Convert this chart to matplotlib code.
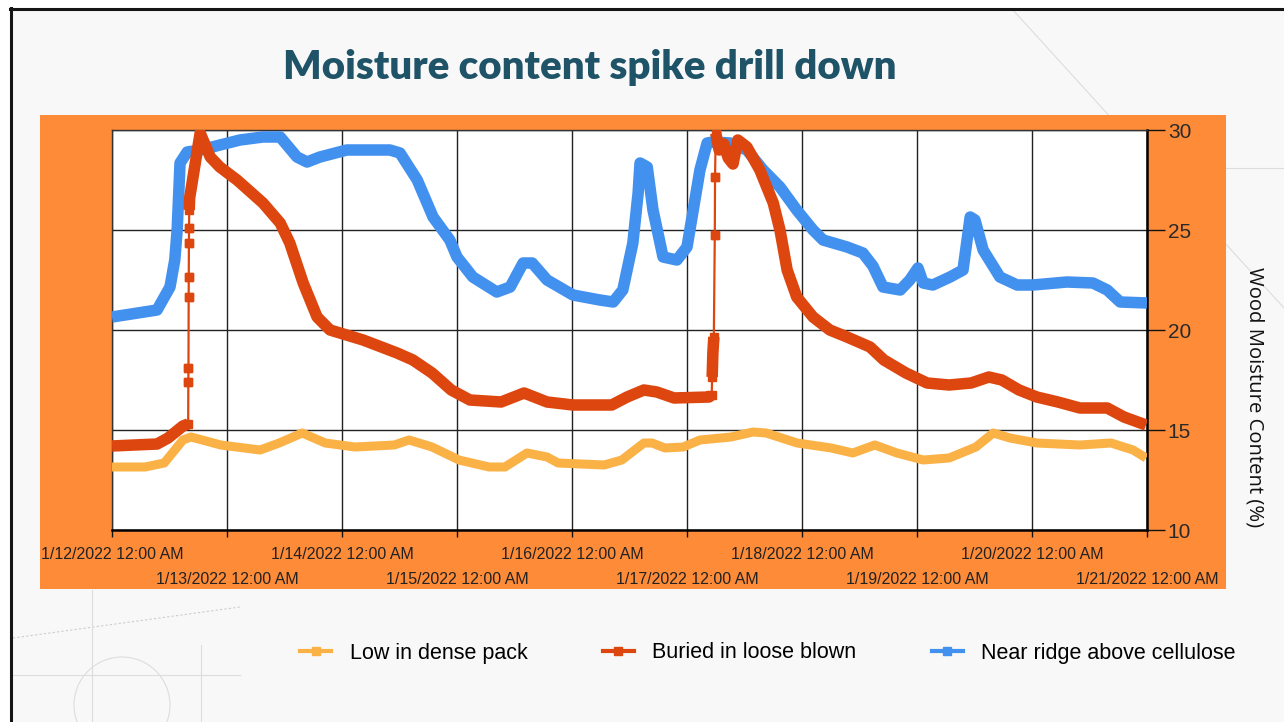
import matplotlib
matplotlib.use("Agg")
import matplotlib.pyplot as plt
import numpy as np
from matplotlib.lines import Line2D
from matplotlib.patches import Rectangle, Circle

# ---------------- data (hours since 1/12/2022 12:00 AM) ----------------
tick_labels = ["1/12/2022 12:00 AM", "1/13/2022 12:00 AM", "1/14/2022 12:00 AM",
               "1/15/2022 12:00 AM", "1/16/2022 12:00 AM", "1/17/2022 12:00 AM",
               "1/18/2022 12:00 AM", "1/19/2022 12:00 AM", "1/20/2022 12:00 AM",
               "1/21/2022 12:00 AM"]
series_names = ["Low in dense pack", "Buried in loose blown", "Near ridge above cellulose"]

blue_t = [0.0, 9.4, 12.1, 13.1, 13.6, 14.2, 15.7, 18.4, 26.7, 31.5, 35.1, 38.6, 40.7, 43.4,
          49.0, 58.0, 60.1, 63.7, 67.0, 70.5, 72.0, 75.3, 80.3, 83.1, 85.8, 87.7, 90.8, 96.2,
          101.8, 104.6, 106.6, 108.7, 109.8, 110.2, 111.7, 112.9, 115.0, 117.9, 120.0, 121.3,
          122.7, 124.2, 125.4, 129.0, 132.5, 135.9, 139.4, 142.9, 146.3, 148.4, 153.4, 156.7,
          158.8, 160.9, 164.5, 166.5, 168.2, 169.3, 171.3, 174.9, 177.6, 179.1, 180.1, 181.8,
          185.3, 188.9, 192.2, 199.3, 204.7, 207.7, 210.4, 216.0]
blue_v = [20.65, 21.0, 22.15, 23.5, 25.0, 28.35, 28.9, 29.0, 29.5, 29.65, 29.65, 28.65, 28.4, 28.65,
          29.0, 29.0, 28.85, 27.5, 25.65, 24.5, 23.65, 22.65, 21.9, 22.15, 23.35, 23.35, 22.5, 21.75,
          21.5, 21.4, 22.0, 24.35, 26.85, 28.35, 28.15, 26.0, 23.65, 23.5, 24.15, 26.0,
          28.0, 29.35, 29.4, 29.35, 29.0, 28.0, 27.15, 26.0, 25.0, 24.5, 24.15, 23.85,
          23.2, 22.15, 22.0, 22.5, 23.1, 22.35, 22.25, 22.65, 23.0, 25.65, 25.5, 24.0,
          22.65, 22.25, 22.25, 22.4, 22.35, 22.0, 21.4, 21.35]

red_t = [0.0, 9.4, 11.7, 14.8, 15.9, 15.93, 15.96, 16.0, 16.02, 16.05, 16.08, 16.12, 16.2,
         18.4, 20.5, 22.5, 26.1, 31.5, 35.1, 37.1, 39.9, 42.8, 45.5, 52.4, 59.5, 62.8, 66.8,
         70.8, 74.7, 81.2, 86.0, 90.8, 96.2, 104.3, 107.5, 111.0, 113.7, 117.3, 124.6, 125.15,
         125.25, 125.4, 125.6, 125.8, 125.85, 126.0, 126.7, 127.7, 128.6, 129.6, 130.6, 132.5,
         135.2, 138.0, 139.4, 140.9, 142.9, 146.3, 149.8, 153.4, 158.2, 161.1, 165.7, 170.1,
         174.7, 179.3, 183.0, 185.7, 189.3, 193.0, 197.4, 202.0, 207.7, 211.2, 215.8]
red_v = [14.2, 14.3, 14.6, 15.2, 15.3, 17.4, 18.1, 21.65, 22.65, 24.35, 25.1, 26.0, 26.6,
         29.85, 28.65, 28.15, 27.5, 26.35, 25.35, 24.35, 22.35, 20.65, 20.0, 19.5, 18.85, 18.5, 17.85,
         17.0, 16.5, 16.4, 16.85, 16.4, 16.25, 16.25, 16.65, 17.0, 16.9, 16.6, 16.65, 16.75,
         17.65, 18.85, 19.65, 24.75, 27.65, 29.85, 29.0, 29.3, 28.6, 28.3, 29.5, 29.15,
         28.0, 26.35, 25.0, 23.0, 21.65, 20.65, 20.0, 19.65, 19.15, 18.5, 17.85, 17.35,
         17.25, 17.35, 17.65, 17.5, 17.0, 16.65, 16.4, 16.1, 16.1, 15.65, 15.25]

yellow_t = [0.0, 6.9, 10.9, 14.8, 16.5, 22.7, 30.9, 34.9, 39.7, 44.5, 50.7, 58.9, 62.0, 66.8,
            72.4, 78.7, 82.0, 86.6, 90.8, 93.1, 102.7, 106.4, 111.0, 112.7, 115.4, 119.2, 122.7,
            129.2, 133.8, 136.5, 143.0, 150.1, 154.6, 159.2, 163.8, 169.3, 174.7, 180.3, 183.9,
            187.4, 193.0, 202.0, 208.5, 213.1, 215.8]
yellow_v = [13.15, 13.15, 13.35, 14.5, 14.65, 14.25, 14.0, 14.35, 14.85, 14.35, 14.15, 14.25, 14.5, 14.15,
            13.5, 13.15, 13.15, 13.85, 13.65, 13.35, 13.25, 13.5, 14.35, 14.35, 14.1, 14.15, 14.5,
            14.65, 14.9, 14.85, 14.35, 14.1, 13.85, 14.25, 13.85, 13.5, 13.6, 14.15, 14.85,
            14.6, 14.35, 14.25, 14.35, 14.0, 13.6]

c_yellow = "#fab246"
c_red = "#de460f"
c_blue = "#4391ee"
c_orange = "#fd8b38"
c_title = "#1f5368"

W, H = 1284, 722
fig = plt.figure(figsize=(W / 100, H / 100), dpi=100)
fig.patch.set_facecolor("white")

# ---------------- slide background (pixel coordinates) ----------------
bg = fig.add_axes([0, 0, 1, 1])
bg.set_xlim(0, W)
bg.set_ylim(H, 0)
bg.axis("off")
bg.add_patch(Rectangle((10, 8), W - 10, H - 8, facecolor="#f8f8f8", edgecolor="none", zorder=0))
dec = "#dddddd"
bg.plot([1013, 1284], [10, 308], color=dec, lw=0.8, zorder=0.5)
bg.plot([1100, 1284], [168, 168], color=dec, lw=0.8, zorder=0.5)
bg.plot([13, 240], [638, 607], color="#cccccc", lw=0.8, ls=(0, (2, 2)), zorder=0.5)
bg.plot([92, 92], [590, H], color=dec, lw=0.8, zorder=0.5)
bg.plot([201, 201], [645, H], color=dec, lw=0.8, zorder=0.5)
bg.plot([13, 240], [675, 675], color=dec, lw=0.8, zorder=0.5)
bg.add_patch(Circle((122, 705), 48, fill=False, edgecolor=dec, lw=0.8, zorder=0.5))
bg.add_patch(Rectangle((40, 115), 1186, 474, facecolor=c_orange, edgecolor="none", zorder=1))
bg.plot([10, W], [8.5, 8.5], color="#151515", lw=2.2, zorder=3)
bg.plot([10.5, 10.5], [8, H], color="#151515", lw=2.2, zorder=3)
bg.text(590, 79, "Moisture content spike drill down", ha="center", va="baseline",
        fontsize=29, fontweight="heavy", family="Lato", color=c_title)

# ---------------- chart ----------------
ax = fig.add_axes([112 / W, 1 - 530 / H, (1147 - 112) / W, 400 / H])
ax.set_facecolor("white")
ax.set_xlim(0, 216)
ax.set_ylim(10, 30)


def draw(t, v, color, lw, z):
    t = np.asarray(t, float)
    v = np.asarray(v, float)
    slope = np.abs(np.diff(v)) / np.maximum(np.diff(t), 1e-6)
    jump = slope > 8
    start = 0
    for i, j in enumerate(jump):
        if j:
            if i > start:
                ax.plot(t[start:i + 1], v[start:i + 1], color=color, lw=lw, zorder=z,
                        solid_capstyle="butt", solid_joinstyle="round")
            ax.plot(t[i:i + 2], v[i:i + 2], color=color, lw=1.6, marker="s", ms=5.5,
                    zorder=z, solid_capstyle="butt")
            start = i + 1
    if len(t) - 1 > start:
        ax.plot(t[start:], v[start:], color=color, lw=lw, zorder=z,
                solid_capstyle="butt", solid_joinstyle="round")


draw(blue_t, blue_v, c_blue, 8.3, 3)
draw(yellow_t, yellow_v, c_yellow, 6.5, 4)
draw(red_t, red_v, c_red, 8.3, 5)

days = np.arange(len(tick_labels)) * 24
ax.set_xticks(days[0::2], labels=tick_labels[0::2])
ax.set_xticks(days[1::2], labels=tick_labels[1::2], minor=True)
ax.set_yticks([10, 15, 20, 25, 30])
ax.yaxis.tick_right()
ax.yaxis.set_label_position("right")
ax.grid(True, which="both", axis="x", color="#222222", lw=1.0, zorder=1)
ax.grid(True, which="major", axis="y", color="#222222", lw=1.0, zorder=1)
ax.set_axisbelow(True)

ax.tick_params(axis="x", which="both", direction="out", length=5, width=1, color="#111111",
               labelsize=11.5, labelcolor="#222222", labelfontfamily="Liberation Sans")
ax.tick_params(axis="x", which="major", pad=7)
ax.tick_params(axis="x", which="minor", pad=25)
ax.tick_params(axis="y", direction="out", length=13, width=1, color="#111111", pad=2,
               labelsize=15, labelcolor="#2a2a2a", labelfontfamily="Liberation Sans")

for s in ["left", "top"]:
    ax.spines[s].set_color("#333333")
    ax.spines[s].set_linewidth(1.0)
for s in ["bottom", "right"]:
    ax.spines[s].set_color("#000000")
    ax.spines[s].set_linewidth(1.8)

fig.text(1255 / W, 1 - 397 / H, "Wood Moisture Content (%)", rotation=270,
         ha="center", va="center", fontsize=14.6, family="Open Sans", color="#111111")

# ---------------- legend ----------------
handles = [Line2D([], [], color=c, lw=3, marker="s", ms=6) for c in (c_yellow, c_red, c_blue)]
fig.legend(handles, series_names, ncol=3, loc="center left",
           bbox_to_anchor=(300 / W, 1 - 653 / H), frameon=False,
           prop={"family": "Liberation Sans", "size": 15.5},
           handlelength=1.45, handletextpad=0.85, columnspacing=3.5, borderaxespad=0,
           borderpad=0)

fig.savefig("out.png", dpi=100, facecolor=fig.get_facecolor())
